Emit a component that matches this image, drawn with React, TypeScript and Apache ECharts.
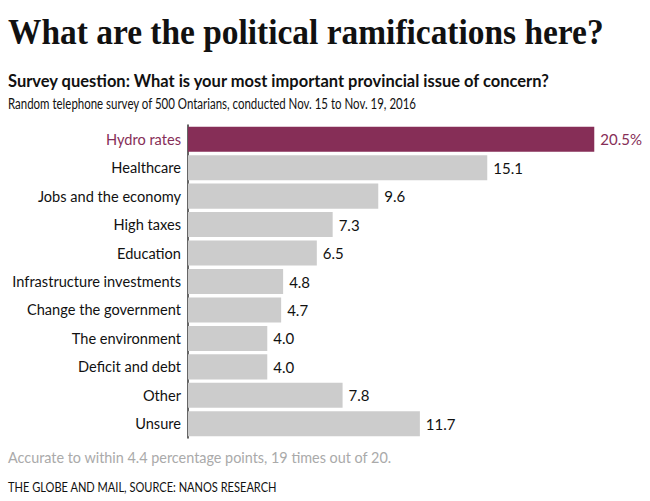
import React, { useEffect, useRef } from "react";
import * as echarts from "echarts";

const categories = [
  "Hydro rates",
  "Healthcare",
  "Jobs and the economy",
  "High taxes",
  "Education",
  "Infrastructure investments",
  "Change the government",
  "The environment",
  "Deficit and debt",
  "Other",
  "Unsure",
];
const values = [20.5, 15.1, 9.6, 7.3, 6.5, 4.8, 4.7, 4.0, 4.0, 7.8, 11.7];

const TITLE = "What are the political ramifications here?";
const SUBTITLE = "Survey question: What is your most important provincial issue of concern?";
const SUBTITLE2 = "Random telephone survey of 500 Ontarians, conducted Nov. 15 to Nov. 19, 2016";
const NOTE = "Accurate to within 4.4 percentage points, 19 times out of 20.";
const SOURCE = "THE GLOBE AND MAIL, SOURCE: NANOS RESEARCH";

const PURPLE = "#862e57";
const GRAY = "#cccccc";
const SANS = "Lato, 'Noto Sans', sans-serif";

export default function App() {
  const ref = useRef<HTMLDivElement>(null);
  useEffect(() => {
    if (!ref.current) return;
    const chart = echarts.init(ref.current, undefined, { renderer: "svg" });
    const txt = (text: string, x: number, y: number, font: string, fill: string, scaleX = 1) => ({
      type: "text",
      x,
      y,
      scaleX,
      style: { text, font, fill, verticalAlign: "top", align: "left" },
    });
    chart.setOption({
      animation: false,
      backgroundColor: "#ffffff",
      graphic: [
        txt(TITLE, 8, 15, "bold 35px 'Liberation Serif', serif", "#111", 0.955),
        txt(SUBTITLE, 8, 72, "bold 17px " + SANS, "#111", 0.97),
        txt(SUBTITLE2, 8, 96, "15px " + SANS, "#111", 0.765),
        txt(NOTE, 8, 449, "15px " + SANS, "#aaaaaa", 0.96),
        txt(SOURCE, 8, 481, "12.5px " + SANS, "#111", 0.885),
      ],
      grid: { left: 188, right: 26, top: 125, bottom: 63, containLabel: false },
      xAxis: {
        type: "value",
        min: 0,
        max: 22,
        show: false,
      },
      yAxis: {
        type: "category",
        data: categories,
        inverse: true,
        axisLine: { show: true, lineStyle: { color: "#333", width: 1.5 } },
        axisTick: { show: false },
        axisLabel: {
          fontFamily: SANS,
          fontSize: 14.6,
          margin: 7,
          color: (v: string) => (v === categories[0] ? PURPLE : "#111"),
        },
      },
      series: [
        {
          type: "bar",
          data: values.map((v, i) => ({
            value: v,
            itemStyle: { color: i === 0 ? PURPLE : GRAY },
            label: i === 0 ? { color: PURPLE, formatter: (p: any) => Number(p.value).toFixed(1) + "%" } : undefined,
          })),
          barCategoryGap: "12%",
          label: {
            show: true,
            position: "right",
            distance: 6,
            fontFamily: SANS,
            fontSize: 15,
            color: "#111",
            formatter: (p: any) => Number(p.value).toFixed(1),
          },
        },
      ],
    });
    return () => chart.dispose();
  }, []);
  return <div ref={ref} style={{ position: "absolute", left: 0, top: 0, width: 650, height: 501 }} />;
}
